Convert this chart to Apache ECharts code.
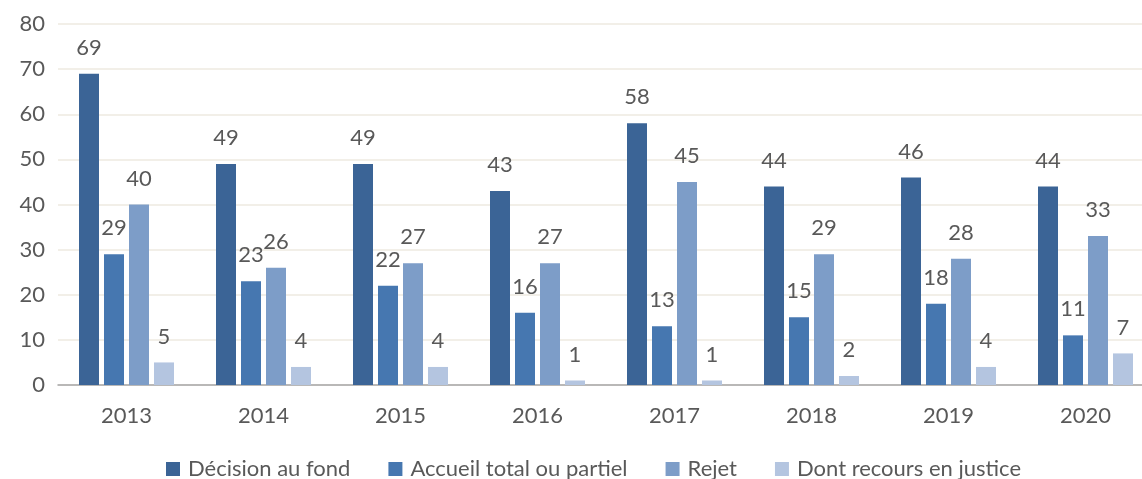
<!DOCTYPE html>
<html>
<head>
<meta charset="utf-8">
<script src="https://cdn.jsdelivr.net/npm/echarts@6/dist/echarts.min.js"></script>
<style>
  html, body { margin: 0; padding: 0; background: #fff; }
  #chart { width: 1142px; height: 479px; }
</style>
</head>
<body>
<div id="chart"></div>
<script>
"use strict";
const years = ["2013", "2014", "2015", "2016", "2017", "2018", "2019", "2020"];
const decisionAuFond = [69, 49, 49, 43, 58, 44, 46, 44];
const accueilTotal = [29, 23, 22, 16, 13, 15, 18, 11];
const rejet = [40, 26, 27, 27, 45, 29, 28, 33];
const recoursJustice = [5, 4, 4, 1, 1, 2, 4, 7];
const seriesNames = ["Décision au fond", "Accueil total ou partiel", "Rejet", "Dont recours en justice"];
const colors = ["#3b6496", "#4677b0", "#7d9dc8", "#b4c5e0"];

const font = "Lato, 'Open Sans', sans-serif";
const chart = echarts.init(document.getElementById("chart"));
const mkSeries = (name, data, i) => ({
    name,
    type: "bar",
    data,
    barWidth: 20,
    barGap: "25%",
    itemStyle: { color: colors[i] },
    label: {
        show: true,
        position: "top",
        distance: 15,
        color: "#595959",
        fontSize: 22,
        fontFamily: font,
    },
});
chart.setOption({
    animation: false,
    color: colors,
    // plot runs past the right edge of the picture, like the source
    grid: { left: 58, top: 24, width: 1096, height: 361, outerBoundsMode: "none", containLabel: false },
    legend: {
        data: seriesNames,
        bottom: -6,
        left: 161,
        itemWidth: 14,
        itemHeight: 14,
        itemGap: 38,
        icon: "rect",
        textStyle: { color: "#595959", fontSize: 22, fontFamily: font, padding: [0, 0, 0, 3] },
    },
    xAxis: {
        type: "category",
        data: years,
        axisLine: { lineStyle: { color: "#a6a6a6", width: 1.5 } },
        axisTick: { show: false },
        axisLabel: { color: "#595959", fontSize: 22, fontFamily: font, margin: 20 },
    },
    yAxis: {
        type: "value",
        min: 0,
        max: 80,
        interval: 10,
        axisLine: { show: false },
        axisTick: { show: false },
        splitLine: { lineStyle: { color: "#eeeae1", width: 1.5 } },
        axisLabel: { color: "#595959", fontSize: 22, fontFamily: font, margin: 13 },
    },
    series: [
        mkSeries(seriesNames[0], decisionAuFond, 0),
        mkSeries(seriesNames[1], accueilTotal, 1),
        mkSeries(seriesNames[2], rejet, 2),
        mkSeries(seriesNames[3], recoursJustice, 3),
    ],
});
</script>
</body>
</html>
